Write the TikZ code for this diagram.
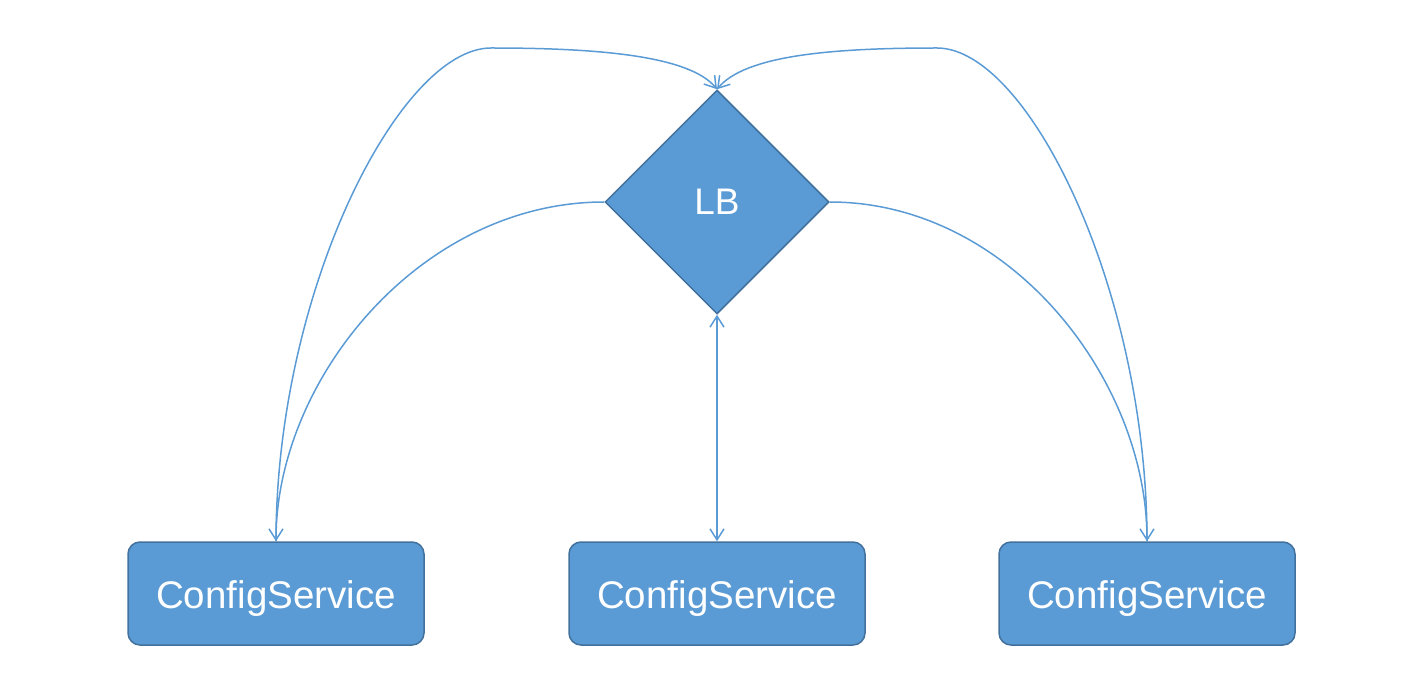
\documentclass[tikz,border=0pt]{standalone}
\usepackage{fontspec}
\setmainfont{Liberation Sans}
\usetikzlibrary{shapes.geometric,arrows.meta}
\definecolor{boxfill}{HTML}{5B9BD5}
\definecolor{boxline}{HTML}{41719C}
\definecolor{linkc}{HTML}{5B9BD5}
\newcommand{\svctext}[1]{\raisebox{-14.5pt}[0pt][0pt]{#1}}
\begin{document}
\begin{tikzpicture}[x=1pt,y=-1pt,
  svc/.style={draw=boxline, line width=1.5pt, fill=boxfill, rounded corners=12pt, minimum width=296pt, minimum height=103pt, text=white, font=\fontsize{38.5}{40}\selectfont, inner sep=0pt},
  lbnode/.style={draw=boxline, line width=1.5pt, fill=boxfill, diamond, minimum width=224pt, minimum height=224pt, text=white, font=\fontsize{37}{40}\selectfont, inner sep=0pt},
  plain/.style={draw=linkc, line width=1.5pt},
  link/.style={draw=linkc, line width=1.5pt, -{Straight Barb[length=11pt,width=14pt,line width=1.5pt]}},
  dlink/.style={draw=linkc, line width=1.5pt, {Straight Barb[length=11pt,width=14pt,line width=1.5pt]}-{Straight Barb[length=11pt,width=14pt,line width=1.5pt]}}
]
\useasboundingbox (0,0) rectangle (1426,684);
\node[svc] (c1) at (276,593.5) {\svctext{ConfigService}};
\node[svc] (c2) at (717,593.5) {\svctext{ConfigService}};
\node[svc] (c3) at (1147,593.5) {\svctext{ConfigService}};
\node[lbnode] (lb) at (717,202) {LB};
\coordinate (tl) at (491,48);
\coordinate (tr) at (937,48);
% outer curves to LB top
\draw[plain] (c1.north) .. controls (276,290) and (400,48) .. (tl);
\draw[link] (tl) .. controls (600,48) and (690,56) .. (lb.north);
\draw[plain] (c3.north) .. controls (1147,290) and (1028,48) .. (tr);
\draw[link] (tr) .. controls (828,48) and (745,56) .. (lb.north);
% inner curves from LB corners to services
\draw[link] (lb.west) .. controls (420,202) and (276,380) .. (c1.north);
\draw[link] (lb.east) .. controls (1010,202) and (1147,380) .. (c3.north);
% vertical
\draw[dlink] (lb.south) -- (c2.north);
\end{tikzpicture}
\end{document}
